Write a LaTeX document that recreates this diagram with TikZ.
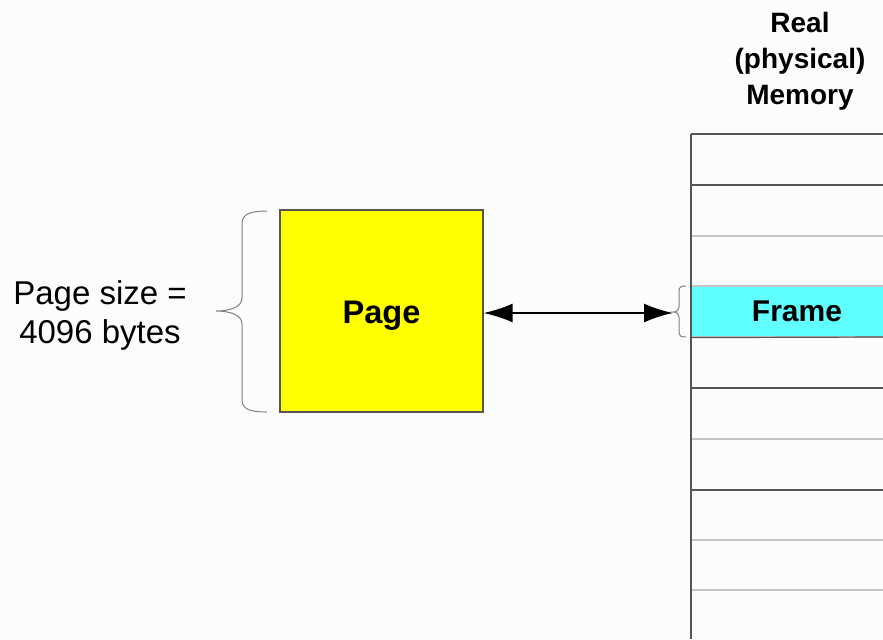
\documentclass[tikz,border=0pt]{standalone}
\usepackage{fontspec}
\setmainfont{Liberation Sans}
\usetikzlibrary{arrows.meta}

\definecolor{pageyellow}{HTML}{FFFF00}
\definecolor{framecyan}{HTML}{60FFFF}
\definecolor{rowdark}{HTML}{555555}
\definecolor{rowlight}{HTML}{C4C4C4}

\begin{document}
\begin{tikzpicture}[x=0.5pt,y=-0.5pt,
  pagebox/.style={rectangle, draw=rowdark, line width=0.6pt, fill=pageyellow, minimum width=101.5pt, minimum height=101pt, inner sep=0pt},
  framebox/.style={rectangle, draw=rowlight, line width=0.6pt, fill=framecyan, minimum width=106pt, minimum height=25.5pt, inner sep=0pt, font=\bfseries\fontsize{15}{18}\selectfont},
  row/.style={line width=0.6pt},
  bracket/.style={draw=gray, line width=0.5pt},
  link/.style={line width=1pt, {Latex[length=14.5pt,width=9.5pt]}-{Latex[length=14.5pt,width=9.5pt]}}]
\clip (0,0) rectangle (883,639);
\fill[white!99!black] (0,0) rectangle (883,639);

\coordinate (M) at (691,134);
\coordinate (Mbot) at (691,639);
\coordinate (ftip) at (673,313);

% memory rows
\foreach \y/\c in {134/rowdark,185/rowdark,236/rowlight,388/rowdark,439/rowlight,490/rowdark,540/rowlight,590/rowlight}
  \draw[row,\c] (691,\y) -- (883,\y);
\node[framebox] (frame) at (797,311.5) {Frame};
\draw[row,rowdark] (frame.south west) -- (883,337);
\draw[row,rowdark] (M) -- (Mbot);

\node[pagebox] (page) at (381.5,311) {};
\node[font=\bfseries\fontsize{16.3}{19}\selectfont] (pagetxt) at (381.5,316) {Page};

\node[align=center, font=\bfseries\fontsize{14}{18}\selectfont] (title) at (800,61) {Real\\(physical)\\Memory};
\node[align=center, font=\fontsize{16.5}{19.5}\selectfont] (size) at (100,315) {Page size =\\4096 bytes};

% braces
\draw[bracket] (267,211) .. controls (250,211) and (242,214) .. (242,224)
  -- (242,298) .. controls (242,307) and (230,311) .. (216,311)
  .. controls (230,311) and (242,315) .. (242,324)
  -- (242,400) .. controls (242,409) and (250,412) .. (267,412);
\draw[bracket] (686,286) .. controls (681,286) and (679,287) .. (679,291)
  -- (679,307) .. controls (679,310) and (677,312) .. (673,312)
  .. controls (677,312) and (679,314) .. (679,317)
  -- (679,333) .. controls (679,336) and (681,337) .. (686,337);

\draw[link] (page.east |- ftip) -- (ftip);
\end{tikzpicture}
\end{document}
